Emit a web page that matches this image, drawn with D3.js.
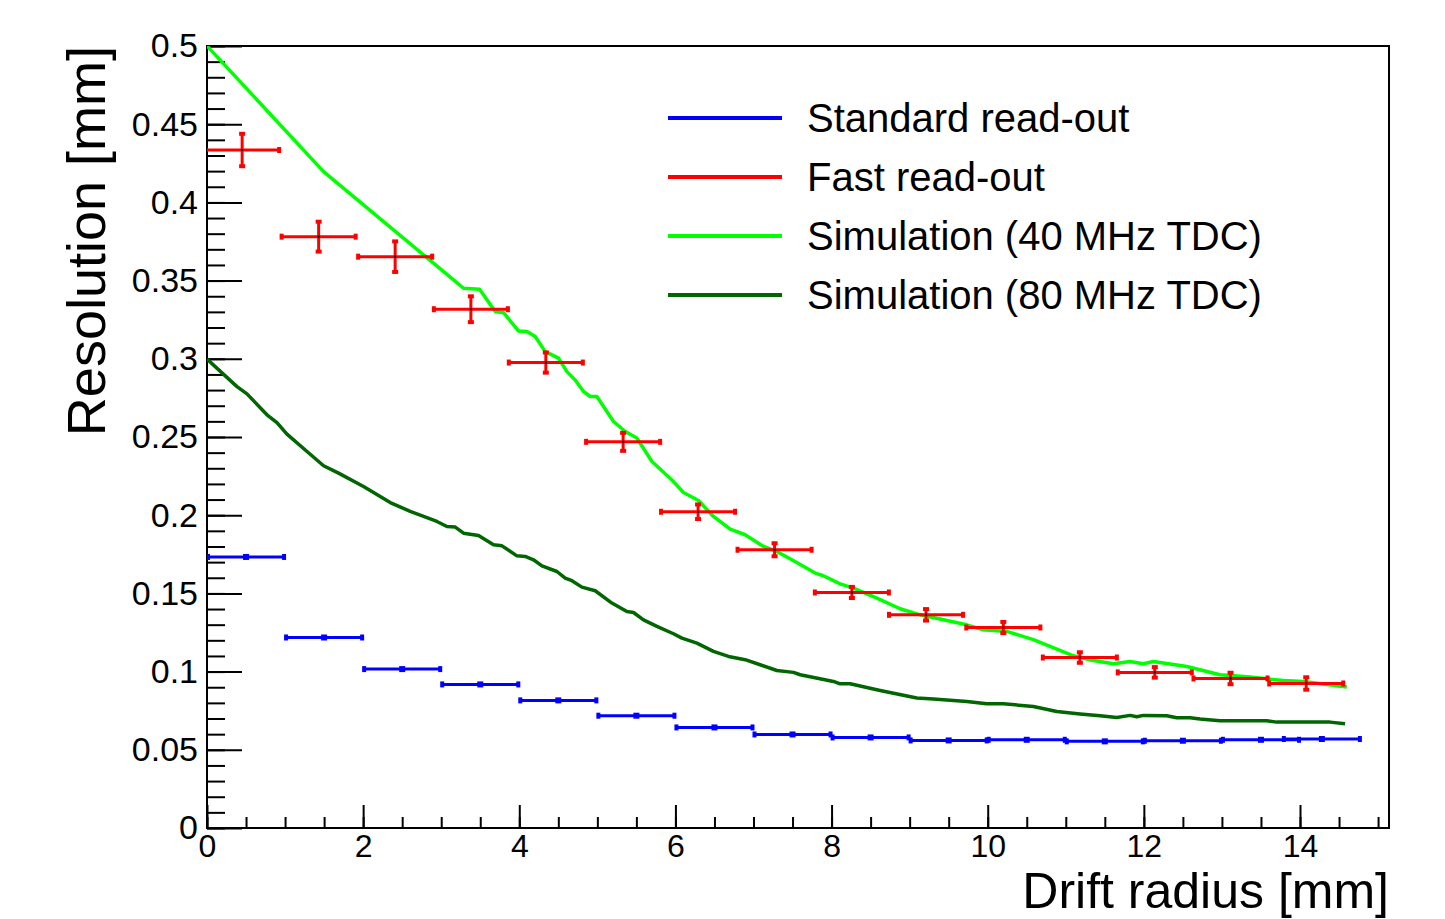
<!DOCTYPE html>
<html>
<head>
<meta charset="utf-8">
<script src="https://cdn.jsdelivr.net/npm/d3@7"></script>
<style>
  body { margin: 0; background: #fff; }
  svg text { font-family: "Liberation Sans", Arial, Helvetica, sans-serif; fill: #000; }
</style>
</head>
<body>
<svg id="chart" width="1445" height="919"></svg>
<script>
// standard read-out: bin edges + resolution (mm)
var stdLow  = [0, 1, 2, 3, 4, 5, 6, 7, 8, 9, 10, 11, 12, 13, 13.78];
var stdHigh = [1, 2, 3, 4, 5, 6, 7, 8, 9, 10, 11, 12, 13, 14, 14.78];
var stdRes  = [0.1733, 0.1218, 0.1016, 0.0918, 0.0816, 0.0718, 0.0643, 0.0598, 0.0579, 0.0560, 0.0564, 0.0554, 0.0558, 0.0564, 0.0569];

// fast read-out: bin centres, resolution, error
var fastX   = [0.45, 1.43, 2.41, 3.38, 4.34, 5.33, 6.29, 7.27, 8.26, 9.21, 10.20, 11.18, 12.14, 13.11, 14.08];
var fastRes = [0.4335, 0.3781, 0.3653, 0.3317, 0.2976, 0.2469, 0.2022, 0.1779, 0.1506, 0.1363, 0.1282, 0.1090, 0.0995, 0.0956, 0.0924];
var fastErr = [0.0110, 0.0102, 0.0104, 0.0089, 0.0071, 0.0064, 0.0053, 0.0048, 0.0042, 0.0043, 0.0042, 0.0040, 0.0040, 0.0043, 0.0046];
var fastHalfWidth = 0.487;

// simulation, 40 MHz TDC
var sim40X = [0, 1.493, 3.116, 3.286, 3.491, 3.692, 3.798, 3.990, 4.098, 4.204, 4.332, 4.502, 4.610, 4.716, 4.823, 4.908, 4.994,
  5.207, 5.357, 5.506, 5.699, 5.975, 6.103, 6.295, 6.487, 6.701, 6.893, 7.128, 7.299, 7.491, 7.790, 7.896, 8.110, 8.280,
  8.580, 8.878, 9.134, 9.732, 9.945, 10.245, 10.585, 11.098, 11.354, 11.610, 11.823, 11.994, 12.122, 12.550, 12.976,
  13.360, 13.787, 14.043, 14.599];
var sim40Res = [0.5000, 0.4197, 0.3522, 0.3451, 0.3445, 0.3302, 0.3295, 0.3178, 0.3174, 0.3142, 0.3046, 0.3004, 0.2918, 0.2865, 0.2791, 0.2759, 0.2759,
  0.2599, 0.2535, 0.2493, 0.2343, 0.2215, 0.2145, 0.2094, 0.1992, 0.1911, 0.1875, 0.1800, 0.1768, 0.1715, 0.1630, 0.1613, 0.1561, 0.1534,
  0.1470, 0.1402, 0.1363, 0.1299, 0.1267, 0.1257, 0.1204, 0.1101, 0.1071, 0.1050, 0.1065, 0.1050, 0.1065, 0.1033, 0.0980,
  0.0965, 0.0943, 0.0937, 0.0901];

// simulation, 80 MHz TDC
var sim80X = [0, 0.384, 0.512, 0.768, 0.896, 1.024, 1.281, 1.493, 1.685, 2.005, 2.347, 2.603, 2.945, 3.073, 3.180, 3.286, 3.478,
  3.670, 3.778, 3.970, 4.076, 4.182, 4.290, 4.482, 4.588, 4.674, 4.802, 4.973, 5.186, 5.378, 5.463, 5.591, 5.763, 5.975,
  6.083, 6.275, 6.487, 6.680, 6.893, 7.085, 7.299, 7.512, 7.598, 8.024, 8.110, 8.238, 8.622, 9.092, 9.305, 9.732, 9.988,
  10.201, 10.585, 10.885, 11.183, 11.439, 11.653, 11.823, 11.909, 11.994, 12.293, 12.421, 12.592, 12.720, 12.976, 13.574,
  13.702, 14.385, 14.577];
var sim80Res = [0.2998, 0.2822, 0.2776, 0.2642, 0.2592, 0.2518, 0.2407, 0.2316, 0.2269, 0.2183, 0.2081, 0.2024, 0.1960, 0.1928, 0.1924, 0.1885, 0.1870,
  0.1811, 0.1804, 0.1740, 0.1736, 0.1715, 0.1676, 0.1640, 0.1598, 0.1581, 0.1540, 0.1517, 0.1438, 0.1384, 0.1378, 0.1331, 0.1289, 0.1242,
  0.1214, 0.1182, 0.1129, 0.1097, 0.1076, 0.1044, 0.1007, 0.0995, 0.0980, 0.0937, 0.0922, 0.0922, 0.0879, 0.0831, 0.0825, 0.0809, 0.0794,
  0.0794, 0.0777, 0.0745, 0.0729, 0.0718, 0.0707, 0.0720, 0.0711, 0.0720, 0.0718, 0.0705, 0.0705, 0.0697, 0.0686, 0.0686,
  0.0677, 0.0677, 0.0667];

var legendNames  = ["Standard read-out", "Fast read-out", "Simulation (40 MHz TDC)", "Simulation (80 MHz TDC)"];
var legendColors = ["#0000ff", "#ff0000", "#00ff00", "#006600"];

var xTicks = [0, 2, 4, 6, 8, 10, 12, 14];
var yTicks = [0, 0.05, 0.1, 0.15, 0.2, 0.25, 0.3, 0.35, 0.4, 0.45, 0.5];

var svg = d3.select("#chart"),
    margin = {top: 46, left: 207},
    width = 1182,
    height = 782,
    g = svg.append("g").attr("transform", "translate(" + margin.left + "," + margin.top + ")");

var x = d3.scaleLinear().domain([0, 15.14]).range([0, width]);
var y = d3.scaleLinear().domain([0, 0.5]).range([height, 0]);

g.append("clipPath").attr("id", "plotClip")
  .append("rect").attr("width", width).attr("height", height);

// minor ticks
g.append("g")
  .call(d3.axisLeft(y).tickValues(d3.range(0, 0.5001, 0.01)).tickSize(-18).tickFormat(""))
  .call(function(a) { a.select(".domain").remove(); })
  .selectAll("line").attr("stroke-width", 2);
g.append("g")
  .attr("transform", "translate(0," + height + ")")
  .call(d3.axisBottom(x).tickValues(d3.range(0, 15.01, 0.5)).tickSize(-11).tickFormat(""))
  .call(function(a) { a.select(".domain").remove(); })
  .selectAll("line").attr("stroke-width", 2);

// major ticks + labels
var yAxis = g.append("g")
  .call(d3.axisLeft(y).tickValues(yTicks).tickSize(-35).tickPadding(9)
    .tickFormat(function(d) { return String(+d.toFixed(2)); }));
yAxis.select(".domain").remove();
yAxis.selectAll("line").attr("stroke-width", 2);
yAxis.selectAll("text").attr("font-size", 34).attr("font-family", null);

var xAxis = g.append("g")
  .attr("transform", "translate(0," + height + ")")
  .call(d3.axisBottom(x).tickValues(xTicks).tickSize(-23).tickPadding(0)
    .tickFormat(d3.format("d")));
xAxis.select(".domain").remove();
xAxis.selectAll("line").attr("stroke-width", 2);
xAxis.selectAll("text").attr("font-size", 32).attr("font-family", null)
  .attr("dy", null).attr("y", 29);

// frame
g.append("rect")
  .attr("width", width).attr("height", height)
  .attr("fill", "none").attr("stroke", "#000").attr("stroke-width", 2);

var plot = g.append("g").attr("clip-path", "url(#plotClip)");

// simulation curves
var sim40 = sim40X.map(function(d, i) { return [d, sim40Res[i]]; });
var sim80 = sim80X.map(function(d, i) { return [d, sim80Res[i]]; });
var line = d3.line()
  .x(function(d) { return x(d[0]); })
  .y(function(d) { return y(d[1]); });

plot.append("path").datum(sim80)
  .attr("fill", "none").attr("stroke", legendColors[3]).attr("stroke-width", 3.5)
  .attr("stroke-linejoin", "round").attr("d", line);
plot.append("path").datum(sim40)
  .attr("fill", "none").attr("stroke", legendColors[2]).attr("stroke-width", 3.5)
  .attr("stroke-linejoin", "round").attr("d", line);

// standard read-out bins
var std = stdRes.map(function(d, i) { return {lo: stdLow[i], hi: stdHigh[i], v: d}; });
var stdG = plot.append("g").attr("fill", legendColors[0]);
std.forEach(function(b) {
  var yy = y(b.v);
  stdG.append("line")
    .attr("x1", x(b.lo)).attr("x2", x(b.hi)).attr("y1", yy).attr("y2", yy)
    .attr("stroke", legendColors[0]).attr("stroke-width", 3);
  stdG.append("rect").attr("x", x(b.lo) - 1).attr("y", yy - 3).attr("width", 4).attr("height", 6);
  stdG.append("rect").attr("x", x(b.hi) - 3).attr("y", yy - 3).attr("width", 4).attr("height", 6);
  stdG.append("rect").attr("x", x((b.lo + b.hi) / 2) - 3).attr("y", yy - 3).attr("width", 6).attr("height", 6);
});

// fast read-out with errors
var fastG = plot.append("g").attr("fill", legendColors[1]);
fastX.forEach(function(cx, i) {
  var px = x(cx), py = y(fastRes[i]);
  var xl = x(cx - fastHalfWidth), xr = x(cx + fastHalfWidth);
  var yt = y(fastRes[i] + fastErr[i]), yb = y(fastRes[i] - fastErr[i]);
  fastG.append("line").attr("x1", xl).attr("x2", xr).attr("y1", py).attr("y2", py)
    .attr("stroke", legendColors[1]).attr("stroke-width", 3);
  fastG.append("line").attr("x1", px).attr("x2", px).attr("y1", yt).attr("y2", yb)
    .attr("stroke", legendColors[1]).attr("stroke-width", 3);
  fastG.append("rect").attr("x", xl - 1).attr("y", py - 3).attr("width", 4).attr("height", 6);
  fastG.append("rect").attr("x", xr - 3).attr("y", py - 3).attr("width", 4).attr("height", 6);
  fastG.append("rect").attr("x", px - 3).attr("y", yt - 1).attr("width", 6).attr("height", 4);
  fastG.append("rect").attr("x", px - 3).attr("y", yb - 3).attr("width", 6).attr("height", 4);
  fastG.append("rect").attr("x", px - 1).attr("y", py - 1).attr("width", 2).attr("height", 2).attr("fill", "#000");
});

// axis titles
svg.append("text")
  .attr("transform", "translate(105," + margin.top + ") rotate(-90)")
  .attr("text-anchor", "end").attr("font-size", 54)
  .text("Resolution [mm]");
svg.append("text")
  .attr("x", margin.left + width).attr("y", 908)
  .attr("text-anchor", "end").attr("font-size", 50)
  .text("Drift radius [mm]");

// legend
var legend = svg.append("g");
legendNames.forEach(function(name, i) {
  var ly = 118 + 59 * i;
  legend.append("line").attr("x1", 668).attr("x2", 782).attr("y1", ly).attr("y2", ly)
    .attr("stroke", legendColors[i]).attr("stroke-width", 4);
  legend.append("text").attr("x", 807).attr("y", ly + 14).attr("font-size", 40).text(name);
});
</script>
</body>
</html>
